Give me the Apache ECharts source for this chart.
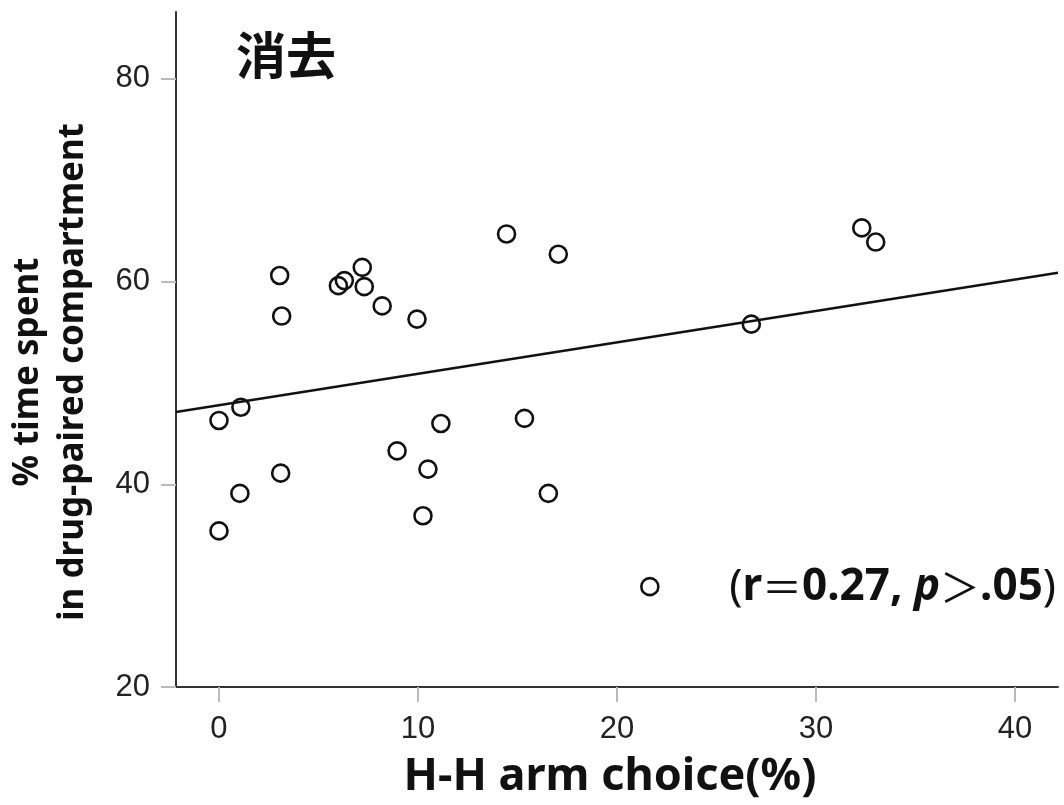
<!DOCTYPE html>
<html>
<head>
<meta charset="utf-8">
<script src="https://cdn.jsdelivr.net/npm/echarts@6/dist/echarts.min.js"></script>
<style>
  html, body { margin: 0; padding: 0; background: #fff; }
  #chart { width: 1064px; height: 805px; }
</style>
</head>
<body>
<div id="chart"></div>
<script>
// H-H arm choice (%) vs % time spent in drug-paired compartment
const hhChoice = [0, 0, 1.1, 1.05, 3.1, 3.05, 3.15, 6.0, 6.3, 7.2, 7.3, 8.2, 9.95, 8.95, 10.5, 10.25, 11.15, 14.45, 17.05, 15.35, 16.55, 21.65, 26.75, 32.3, 33.0]
const timeSpent = [35.4, 46.3, 47.6, 39.1, 41.1, 60.6, 56.6, 59.6, 60.1, 61.4, 59.5, 57.6, 56.3, 43.3, 41.5, 36.9, 46.0, 64.7, 62.7, 46.5, 39.1, 29.9, 55.8, 65.3, 63.9]
const fitIntercept = 47.8
const fitSlope = 0.31
const xTicks = [0, 10, 20, 30, 40]
const yTicks = [20, 40, 60, 80]
const xMin = -2.16, xMax = 42.16
const yMin = 20, yMax = 86.6

const points = hhChoice.map((x, i) => [x, timeSpent[i]])
const fitLine = [xMin, xMax].map(x => [x, fitIntercept + fitSlope * x])

const font = '"Liberation Sans", Arial, sans-serif'
const nameFont = '"Noto Sans", "Liberation Sans", sans-serif'
const chart = echarts.init(document.getElementById('chart'))
chart.setOption({
  animation: false,
  backgroundColor: '#fff',
  grid: { left: 176, right: 6, top: 12, bottom: 118, containLabel: false, outerBoundsMode: 'none' },
  xAxis: {
    type: 'value',
    min: xMin,
    max: xMax,
    splitLine: { show: false },
    axisLine: { onZero: false, lineStyle: { color: '#333', width: 2 } },
    axisTick: { customValues: xTicks, length: 15, lineStyle: { color: '#bbb', width: 2 } },
    axisLabel: {
      customValues: xTicks, margin: 27, fontSize: 31, color: '#222', fontFamily: font
    }
  },
  yAxis: {
    type: 'value',
    min: yMin,
    max: yMax,
    splitLine: { show: false },
    axisLine: { onZero: false, lineStyle: { color: '#333', width: 2 } },
    axisTick: { customValues: yTicks, length: 15, lineStyle: { color: '#bbb', width: 2 } },
    axisLabel: {
      customValues: yTicks, margin: 26, fontSize: 31, color: '#222', fontFamily: font
    }
  },
  series: [
    {
      type: 'line',
      data: fitLine,
      symbol: 'none',
      lineStyle: { color: '#111', width: 2.4 },
      z: 1
    },
    {
      type: 'scatter',
      data: points,
      symbol: 'circle',
      symbolSize: 17,
      itemStyle: { color: 'rgba(255,255,255,0)', borderColor: '#111', borderWidth: 2.6, opacity: 1 },
      z: 2
    }
  ],
  graphic: [
    {
      type: 'text',
      x: 236,
      y: 55,
      style: {
        text: '消去',
        fontSize: 50,
        fontWeight: 'bold',
        fill: '#111',
        align: 'left',
        verticalAlign: 'middle',
        fontFamily: '"Noto Sans CJK JP", sans-serif'
      }
    },
    {
      type: 'text',
      x: 51,
      y: 372,
      rotation: Math.PI / 2,
      style: {
        text: '% time spent\nin drug-paired compartment',
        fontSize: 35,
        fontWeight: 'bold',
        lineHeight: 45,
        fill: '#111',
        align: 'center',
        verticalAlign: 'middle',
        fontFamily: nameFont
      }
    },
    {
      type: 'text',
      x: 610,
      y: 777,
      style: {
        text: 'H-H arm choice(%)',
        fontSize: 45,
        fontWeight: 'bold',
        fill: '#111',
        align: 'center',
        verticalAlign: 'middle',
        fontFamily: nameFont
      }
    },
    {
      type: 'text',
      x: 1056,
      y: 587,
      style: {
        text: '{p|(}{a|r}{s|＝}{a|0.27, }{i|p}{s|＞}{a|.05}{p|)}',
        align: 'right',
        verticalAlign: 'middle',
        rich: {
          a: { fontSize: 44, fontWeight: 'bold', fill: '#111', fontFamily: nameFont },
          i: { fontSize: 44, fontWeight: 'bold', fontStyle: 'italic', fill: '#111', fontFamily: nameFont },
          s: { fontSize: 40, fontWeight: 'normal', fill: '#111', fontFamily: '"Noto Sans CJK JP", sans-serif' },
          p: { fontSize: 44, fontWeight: 'normal', fill: '#111', fontFamily: nameFont }
        }
      }
    }
  ]
})
</script>
</body>
</html>
